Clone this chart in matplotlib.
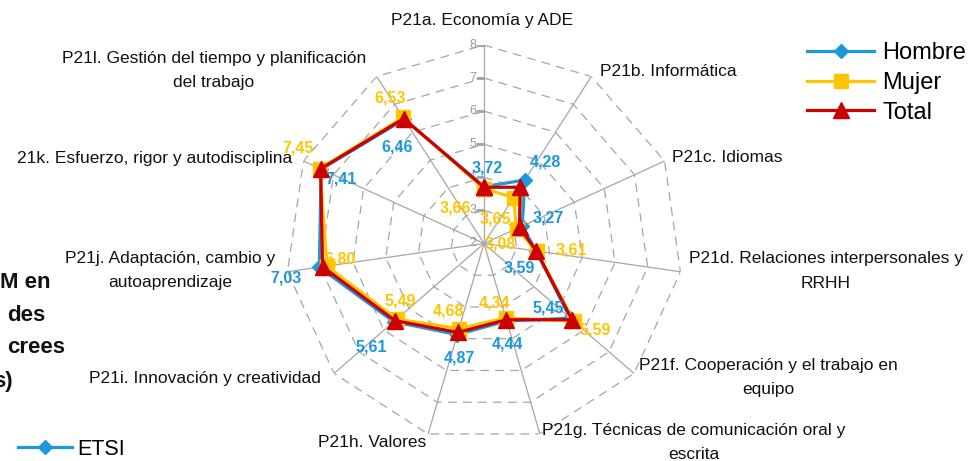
import matplotlib
matplotlib.use("Agg")
import matplotlib.pyplot as plt
from matplotlib.lines import Line2D
import numpy as np

plt.rcParams['font.family'] = ['Liberation Sans', 'DejaVu Sans']

# ---- data -------------------------------------------------------------
categories = [
    "P21a. Economía y ADE",
    "P21b. Informática",
    "P21c. Idiomas",
    "P21d. Relaciones interpersonales y\nRRHH",
    "P21f. Cooperación y el trabajo en\nequipo",
    "P21g. Técnicas de comunicación oral y\nescrita",
    "P21h. Valores",
    "P21i. Innovación y creatividad",
    "P21j. Adaptación, cambio y\nautoaprendizaje",
    "21k. Esfuerzo, rigor y autodisciplina",
    "P21l. Gestión del tiempo y planificación\ndel trabajo",
]
hombre = [3.72, 4.28, 3.27, 3.59, 5.45, 4.44, 4.87, 5.61, 7.03, 7.41, 6.46]
mujer = [3.66, 3.65, 3.08, 3.61, 5.59, 4.34, 4.68, 5.49, 6.80, 7.45, 6.53]
total = [3.70, 4.02, 3.18, 3.60, 5.52, 4.40, 4.80, 5.56, 6.93, 7.43, 6.49]
series_names = ["Hombre", "Mujer", "Total"]
r_ticks = [2, 3, 4, 5, 6, 7, 8]
side_title = ["M en", "des", "crees", "s)"]
side_legend = "ETSI"

# ---- style / layout ---------------------------------------------------
W, H = 974, 461
BLUE = '#1E98DA'
YELLOW = '#FFC600'
RED = '#CC0000'
GRID = '#A6A6A6'

# label offsets in pixels (dx right, dy down) from each point
hombre_off = [(3, -19), (21, -18), (26, -8), (-17, 17), (-22, -10), (1, 23),
              (2, 23), (-22, 25), (-33, 11), (20, 10), (-7, 28)]
mujer_off = [(-29, 19), (-18, 21), (-16, 15), (35, -1), (21, 9), (-11, -15),
             (-11, -18), (3, -18), (13, -7), (-22, -21), (-13, -19)]
# category label centres in pixels
cat_pos = [(482, 20), (668, 72), (727, 158), (826, 271), (768, 377),
           (694, 442), (372, 442), (205, 378), (170, 271), (155, 158),
           (214, 70)]


def fx(x):
    return x / W


def fy(y):
    return 1 - y / H


fig = plt.figure(figsize=(W / 100, H / 100), dpi=100)
cx, cy, R = 484, 243.5, 198.5
ax = fig.add_axes([fx(cx - R), fy(cy + R), 2 * R / W, 2 * R / H],
                  projection='polar')
ax.set_theta_zero_location('N')
ax.set_theta_direction(-1)
ax.set_ylim(2, 8)
ax.axis('off')

n = len(categories)
theta = np.arange(n) * 2 * np.pi / n
theta_c = np.append(theta, theta[0])

# grid: spokes and dashed rings
for t in theta:
    ax.plot([t, t], [r_ticks[0], r_ticks[-1]], color=GRID, lw=0.9, zorder=1)
for r in r_ticks[1:]:
    ax.plot(theta_c, [r] * (n + 1), color=GRID, lw=0.9, ls=(0, (7, 5)),
            zorder=1)
    ax.plot([0], [r], marker=0, ms=6, color=GRID, mew=0.9, zorder=1)
for r in r_ticks:
    ax.annotate(str(r), xy=(0, r), xytext=(-8, 0), textcoords='offset pixels',
                ha='right', va='center', fontsize=9, color='#9A9A9A')

# series
styles = [
    (hombre, BLUE, 'D', 7.0),
    (mujer, YELLOW, 's', 9.5),
    (total, RED, '^', 11),
]
handles = []
for (vals, col, mk, ms), name in zip(styles, series_names):
    v = np.append(vals, vals[0])
    ln, = ax.plot(theta_c, v, color=col, lw=2.3, marker=mk, ms=ms, mfc=col,
                  mec=col, zorder=3, clip_on=False, label=name)
    handles.append(ln)

# data labels
for vals, offs, col in [(hombre, hombre_off, BLUE), (mujer, mujer_off, YELLOW)]:
    for t, v, (dx, dy) in zip(theta, vals, offs):
        ax.annotate(f"{v:.2f}".replace('.', ','), xy=(t, v), xytext=(dx, -dy),
                    textcoords='offset pixels', ha='center', va='center',
                    fontsize=11.5, fontweight='bold', color=col, zorder=5)

# category labels
for text, (x, y) in zip(categories, cat_pos):
    fig.text(fx(x), fy(y), text, ha='center', va='center', fontsize=12.5,
             linespacing=1.75, color='#111111')

# legend
fig.legend(handles=handles, loc='upper left',
           bbox_to_anchor=(fx(807), fy(42)), frameon=False, fontsize=17,
           handlelength=2.85, handletextpad=0.35, labelspacing=0.33,
           borderpad=0, borderaxespad=0, numpoints=1)

# cut-off pieces of the neighbouring chart on the left
for txt, xr, yb in zip(side_title, [50, 45, 65, 13], [288, 321, 353, 387]):
    fig.text(fx(xr), fy(yb), txt, ha='right', va='baseline', fontsize=16,
             fontweight='bold', color='#111111')
proxy = Line2D([], [], color=BLUE, lw=2.3, marker='D', ms=7, mfc=BLUE, mec=BLUE)
fig.legend(handles=[proxy], labels=[side_legend], loc='center left',
           bbox_to_anchor=(fx(18), fy(449)), frameon=False, fontsize=15.5,
           handlelength=2.5, handletextpad=0.25, borderpad=0, borderaxespad=0)

fig.savefig('out.png', dpi=100)
